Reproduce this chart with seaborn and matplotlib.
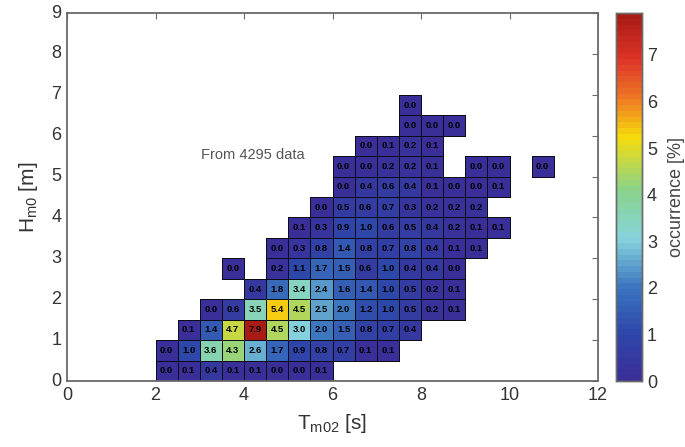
import numpy as np
import pandas as pd
import matplotlib
matplotlib.use("Agg")
import matplotlib.pyplot as plt
from matplotlib.colors import LinearSegmentedColormap, ListedColormap
import seaborn as sns

nan = np.nan
# Bin widths
dT = 0.5   # s
dH = 0.5   # m
t_bins = np.arange(0, 12, dT)   # lower edges of Tm02 bins
h_bins = np.arange(0, 9, dH)    # lower edges of Hm0 bins

# Each row: (Hm0 lower edge, first Tm02 lower edge, occurrence values [%])
row_h = [0.0, 0.5, 1.0, 1.5, 2.0, 2.5, 3.0, 3.5, 4.0, 4.5, 5.0, 5.5, 6.0, 6.5]
row_t0 = [2.0, 2.0, 2.5, 3.0, 4.0, 3.5, 4.5, 5.0, 5.5, 6.0, 6.0, 6.5, 7.5, 7.5]
r00 = [0.0, 0.1, 0.4, 0.1, 0.1, 0.0, 0.0, 0.1]
r05 = [0.0, 1.0, 3.6, 4.3, 2.6, 1.7, 0.9, 0.8, 0.7, 0.1, 0.1]
r10 = [0.1, 1.4, 4.7, 7.9, 4.5, 3.0, 2.0, 1.5, 0.8, 0.7, 0.4]
r15 = [0.0, 0.6, 3.5, 5.4, 4.5, 2.5, 2.0, 1.2, 1.0, 0.5, 0.2, 0.1]
r20 = [0.4, 1.8, 3.4, 2.4, 1.6, 1.4, 1.0, 0.5, 0.2, 0.1]
r25 = [0.0, nan, 0.2, 1.1, 1.7, 1.5, 0.6, 1.0, 0.4, 0.4, 0.0]
r30 = [0.0, 0.3, 0.8, 1.4, 0.8, 0.7, 0.8, 0.4, 0.1, 0.1]
r35 = [0.1, 0.3, 0.9, 1.0, 0.6, 0.5, 0.4, 0.2, 0.1, 0.1]
r40 = [0.0, 0.5, 0.6, 0.7, 0.3, 0.2, 0.2, 0.2]
r45 = [0.0, 0.4, 0.6, 0.4, 0.1, 0.0, 0.0, 0.1]
r50 = [0.0, 0.0, 0.2, 0.2, 0.1, nan, 0.0, 0.0, nan, 0.0]
r55 = [0.0, 0.1, 0.2, 0.1]
r60 = [0.0, 0.0, 0.0]
r65 = [0.0]
rows = [r00, r05, r10, r15, r20, r25, r30, r35, r40, r45, r50, r55, r60, r65]

n_data = 4295
xtick_vals = [0, 2, 4, 6, 8, 10, 12]
ytick_vals = [0, 1, 2, 3, 4, 5, 6, 7, 8, 9]
cbar_ticks = [0, 1, 2, 3, 4, 5, 6, 7]

# Build the full grid (rows = Hm0 bins, cols = Tm02 bins)
grid = np.full((len(h_bins), len(t_bins)), np.nan)
for h, t0, vals in zip(row_h, row_t0, rows):
    i = int(round(h / dH))
    j0 = int(round(t0 / dT))
    for k, v in enumerate(vals):
        grid[i, j0 + k] = v
df = pd.DataFrame(grid, index=h_bins, columns=t_bins)

# Colormap resembling the (washed-out) MATLAB jet of the reference
cmap = LinearSegmentedColormap.from_list(
    "jetlike",
    [(0.000, "#3a2f98"), (0.125, "#2e47aa"), (0.25, "#3b74bf"),
     (0.385, "#86d4de"), (0.52, "#8ad38a"), (0.665, "#f6dc0c"),
     (0.77, "#ef7a24"), (0.88, "#de3328"), (1.0, "#a81c14")], N=64)

sns.set_style("white")
plt.rcParams["font.family"] = ["Liberation Sans", "DejaVu Sans"]
plt.rcParams["mathtext.fontset"] = "custom"
plt.rcParams["mathtext.rm"] = "Liberation Sans"
plt.rcParams["mathtext.it"] = "Liberation Sans"

fig = plt.figure(figsize=(6.85, 4.47), dpi=100)
ax = fig.add_axes([67 / 685, (447 - 381) / 447, 531 / 685, 368 / 447])
cax = fig.add_axes([616 / 685, (447 - 381) / 447, 26 / 685, 368 / 447])

mask = df.isna()
# Filled, annotated cells
sns.heatmap(df, ax=ax, cbar_ax=cax, cmap=cmap, vmin=0, vmax=7.9,
            mask=mask, annot=True, fmt=".1f",
            annot_kws=dict(fontsize=6.8, fontweight="bold", color="black"),
            linewidths=0)
# Transparent overlay that only draws cell borders of populated bins
sns.heatmap(df, ax=ax, cbar=False, cmap=ListedColormap([(0, 0, 0, 0)]),
            mask=mask, annot=False, linewidths=0.6, linecolor="black")
mesh = ax.collections[-1]
edge = np.where(mask.values.ravel()[:, None],
                np.array([[0, 0, 0, 0]], dtype=float),
                np.array([[0.05, 0.05, 0.1, 1]], dtype=float))
mesh.set_edgecolor(edge)
mesh.set_antialiased(True)

ax.set_xlim(0, len(t_bins))
ax.set_ylim(0, len(h_bins))
ax.set_xticks([v / dT for v in xtick_vals])
ax.set_xticklabels([str(v) for v in xtick_vals], rotation=0)
ax.set_yticks([v / dH for v in ytick_vals])
ax.set_yticklabels([str(v) for v in ytick_vals], rotation=0)
for s in ax.spines.values():
    s.set_visible(True)
    s.set_color("#6a6a6a")
    s.set_linewidth(1.3)
ax.tick_params(direction="in", length=4, width=0.8, color="#6a6a6a",
               top=True, right=True, labelsize=13, labelcolor="#333333", pad=4)

ax.set_xlabel(r"T$_{\mathrm{m02}}$ [s]", fontsize=15, color="#333333", labelpad=6)
ax.set_ylabel(r"H$_{\mathrm{m0}}$ [m]", fontsize=15, color="#333333", labelpad=8)

ax.text(4.2 / dT, 5.52 / dH, f"From {n_data} data", fontsize=10.5, color="#555555",
        ha="center", va="center")

cax.set_yticks(cbar_ticks)
cax.set_yticklabels([str(v) for v in cbar_ticks])
cax.tick_params(direction="in", length=4, width=0.8, color="#444444",
                labelsize=13, labelcolor="#333333", right=True, left=False)
for s in cax.spines.values():
    s.set_visible(True)
    s.set_color("#6a6a6a")
    s.set_linewidth(1.0)
cax.set_ylabel("occurrence [%]", fontsize=13, color="#444444", labelpad=8)

fig.savefig("out.png", dpi=100)
